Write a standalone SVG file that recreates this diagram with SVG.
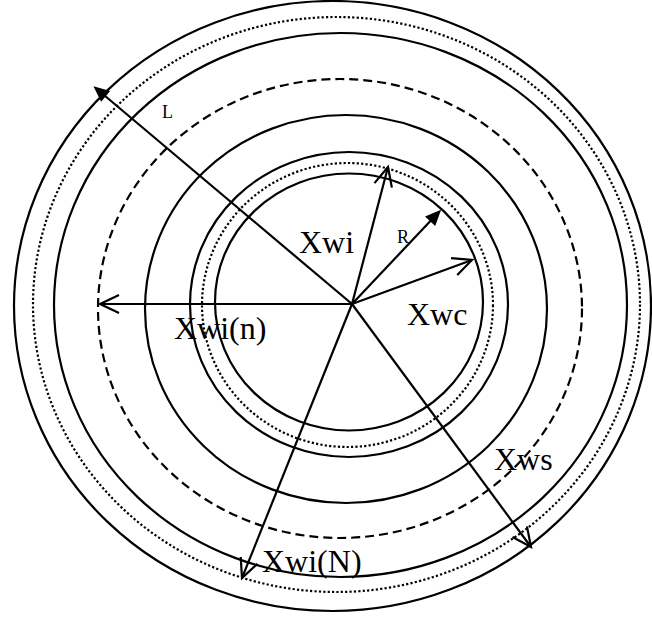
<svg xmlns="http://www.w3.org/2000/svg" width="652" height="619" viewBox="0 0 652 619">
<style>
.ring{fill:none;stroke:#000;stroke-width:2.2}
.dot{stroke-dasharray:2.2 2.2}
.dash{stroke-dasharray:9 5}
.arr{fill:none;stroke:#000;stroke-width:2.2}
.lbl{font-family:"Liberation Serif","Times New Roman",serif;fill:#000}
.big{font-size:32px}
.small{font-size:18px}
</style>
<defs>
<marker id="open" markerUnits="userSpaceOnUse" markerWidth="40" markerHeight="40" viewBox="-30 -20 40 40" refX="0" refY="0" orient="auto" overflow="visible">
<path d="M -19 -9 L 0 0 L -19 9" fill="none" stroke="#000" stroke-width="2.2"/>
</marker>
<marker id="filled" markerUnits="userSpaceOnUse" markerWidth="40" markerHeight="40" viewBox="-30 -20 40 40" refX="-6" refY="0" orient="auto" overflow="visible">
<path d="M -16 -7 L 0 0 L -16 7 Z" fill="#000"/>
</marker>
</defs>
<rect width="652" height="619" fill="#fff"/>
<g id="rings">
<ellipse id="ring-outer" class="ring" cx="332.5" cy="306" rx="318.5" ry="305"/>
<ellipse id="ring-outer-dotted" class="ring dot" cx="336.5" cy="304.5" rx="303.5" ry="287.5"/>
<ellipse id="ring-6" class="ring" cx="340.5" cy="305" rx="286.5" ry="272"/>
<ellipse id="ring-dashed" class="ring dash" cx="340" cy="308.5" rx="242" ry="229.5"/>
<ellipse id="ring-4" class="ring" cx="346" cy="309" rx="201" ry="194"/>
<ellipse id="ring-3" class="ring" cx="349" cy="304.5" rx="159" ry="152.5"/>
<ellipse id="ring-inner-dotted" class="ring dot" cx="347.5" cy="305" rx="145.5" ry="142"/>
<ellipse id="ring-inner" class="ring" cx="349" cy="302" rx="134" ry="128.5"/>
</g>
<g id="connectors">
<line class="arr" x1="352" y1="304" x2="98" y2="90" marker-end="url(#filled)"/>
<line class="arr" x1="352" y1="304" x2="100" y2="304" marker-end="url(#open)"/>
<line class="arr" x1="352" y1="304" x2="388" y2="167" marker-end="url(#open)"/>
<line class="arr" x1="352" y1="304" x2="437" y2="214" marker-end="url(#filled)"/>
<line class="arr" x1="352" y1="304" x2="472" y2="260" marker-end="url(#open)"/>
<line class="arr" x1="352" y1="304" x2="531" y2="547" marker-end="url(#open)"/>
<line class="arr" x1="352" y1="304" x2="242" y2="578" marker-end="url(#open)"/>
</g>
<g id="labels">
<text id="label-L" class="lbl small" x="162" y="118">L</text>
<text id="label-Xwi" class="lbl big" x="299" y="253">Xwi</text>
<text id="label-R" class="lbl small" x="397" y="243">R</text>
<text id="label-Xwc" class="lbl big" x="407" y="325">Xwc</text>
<text id="label-Xwin" class="lbl big" x="174" y="339">Xwi(n)</text>
<text id="label-Xws" class="lbl big" x="494" y="470">Xws</text>
<text id="label-XwiN" class="lbl big" x="262" y="572">Xwi(N)</text>
</g>
</svg>
